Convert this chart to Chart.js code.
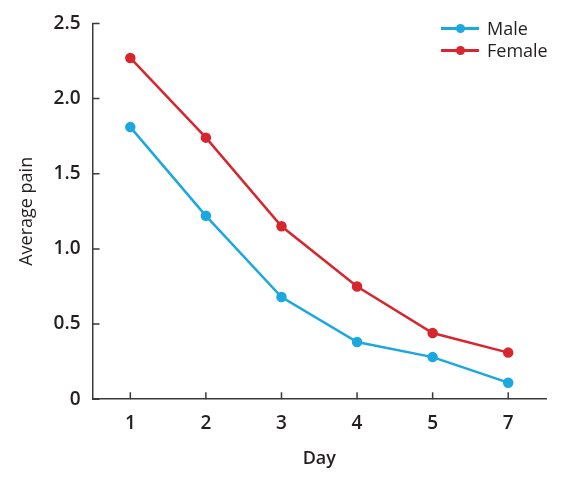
<!DOCTYPE html>
<html>
<head>
<meta charset="utf-8">
<script src="https://cdn.jsdelivr.net/npm/chart.js@4"></script>
<style>
  body { margin: 0; background: #fff; }
  #wrap { position: relative; width: 569px; height: 479px; }
  #legend { position: absolute; left: 441px; top: 17px; font-family: "Open Sans", sans-serif; font-size: 18px; font-weight: 500; color: #231f20; }
  .item { display: flex; align-items: center; height: 22px; }
  .sample { position: relative; width: 38px; height: 3px; margin-right: 8px; }
  .sample span { position: absolute; left: 15px; top: -3px; width: 9px; height: 9px; border-radius: 50%; }
</style>
</head>
<body>
<div id="wrap">
  <canvas id="chart" width="569" height="479"></canvas>
  <div id="legend"></div>
</div>
<script>
// Average pain by day
var days = ['1', '2', '3', '4', '5', '7'];
var maleValues = [1.81, 1.22, 0.68, 0.38, 0.28, 0.11];
var femaleValues = [2.27, 1.74, 1.15, 0.75, 0.44, 0.31];
var seriesNames = ['Male', 'Female'];
var seriesColors = ['#1ba8e0', '#d7262d'];

var axisColor = '#3a3a3a';

// short tick marks pointing into the plot
var innerTicks = {
    id: 'innerTicks',
    afterDatasetsDraw: function(chart) {
        var ctx = chart.ctx;
        var area = chart.chartArea;
        var x = chart.scales.x, y = chart.scales.y;
        ctx.save();
        ctx.strokeStyle = axisColor;
        ctx.lineWidth = 1.5;
        ctx.beginPath();
        x.ticks.forEach(function(t, i) {
            var px = x.getPixelForTick(i);
            ctx.moveTo(px, area.bottom);
            ctx.lineTo(px, area.bottom - 7);
        });
        y.ticks.forEach(function(t, i) {
            var py = y.getPixelForTick(i);
            ctx.moveTo(area.left, py);
            ctx.lineTo(area.left + 7, py);
        });
        ctx.stroke();
        ctx.restore();
    }
};

var ctx = document.getElementById('chart').getContext('2d');
var chart = new Chart(ctx, {
    type: 'line',
    data: {
        labels: days,
        datasets: [{
            label: seriesNames[0],
            data: maleValues,
            borderColor: seriesColors[0],
            backgroundColor: seriesColors[0],
            borderWidth: 2.5,
            pointRadius: 4,
            tension: 0
        }, {
            label: seriesNames[1],
            data: femaleValues,
            borderColor: seriesColors[1],
            backgroundColor: seriesColors[1],
            borderWidth: 2.5,
            pointRadius: 4,
            tension: 0
        }]
    },
    options: {
        responsive: false,
        animation: false,
        layout: { padding: { left: 12, right: 23, top: 1, bottom: 7 } },
        plugins: {
            legend: { display: false },
            tooltip: { enabled: false }
        },
        scales: {
            x: {
                offset: true,
                grid: { display: false, drawTicks: false, tickLength: 0 },
                border: { display: true, color: axisColor, width: 1.5 },
                ticks: {
                    color: '#231f20',
                    padding: 13,
                    font: { family: 'Open Sans', size: 19, weight: '600' }
                },
                title: {
                    display: true,
                    text: 'Day',
                    color: '#231f20',
                    padding: { top: 2 },
                    font: { family: 'Open Sans', size: 18, weight: '600', lineHeight: 1 }
                }
            },
            y: {
                min: 0,
                max: 2.5,
                grid: { display: false, drawTicks: false, tickLength: 0 },
                border: { display: true, color: axisColor, width: 1.5 },
                ticks: {
                    stepSize: 0.5,
                    color: '#231f20',
                    padding: 12,
                    font: { family: 'Open Sans', size: 19, weight: '600' },
                    callback: function(v) { return v === 0 ? '0' : v.toFixed(1); }
                },
                title: {
                    display: true,
                    text: 'Average pain',
                    color: '#231f20',
                    padding: { bottom: 4 },
                    font: { family: 'Open Sans', size: 18, weight: '500' }
                }
            }
        }
    },
    plugins: [innerTicks]
});

// legend
var legend = document.getElementById('legend');
seriesNames.forEach(function(name, i) {
    var item = document.createElement('div');
    item.className = 'item';
    item.innerHTML = '<div class="sample" style="background:' + seriesColors[i] + '"><span style="background:' + seriesColors[i] + '"></span></div>' + name;
    legend.appendChild(item);
});
</script>
</body>
</html>
